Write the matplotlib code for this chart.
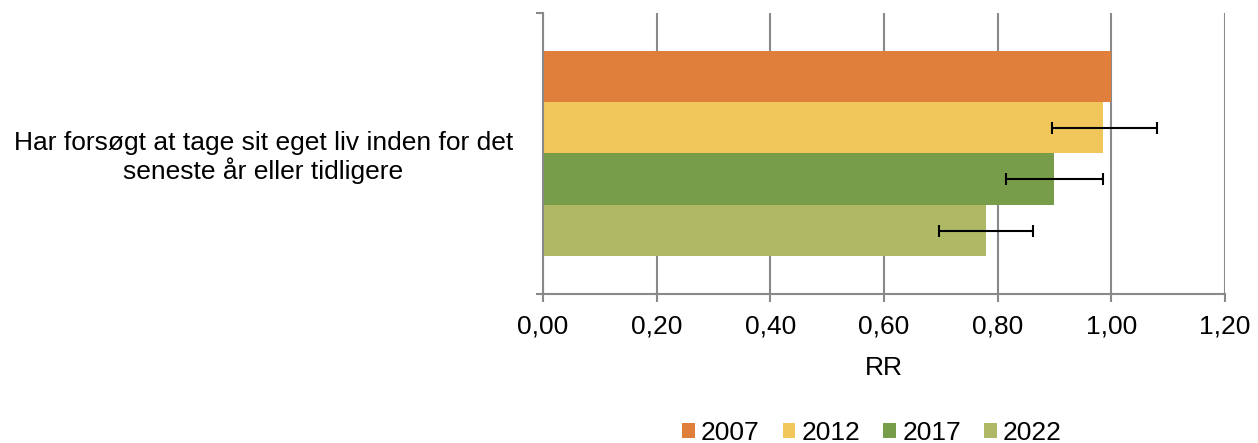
import matplotlib
matplotlib.use("Agg")
import matplotlib.pyplot as plt
import numpy as np

plt.rcParams['font.family'] = ['Liberation Sans', 'DejaVu Sans']

category = "Har forsøgt at tage sit eget liv inden for det\nseneste år eller tidligere"
years = ["2007", "2012", "2017", "2022"]
rr = [1.00, 0.985, 0.90, 0.78]
ci_low = [None, 0.896, 0.815, 0.697]
ci_high = [None, 1.080, 0.986, 0.863]
colors = ["#E07E3C", "#F1C75B", "#789D4A", "#AFB865"]
xticks = [0.0, 0.2, 0.4, 0.6, 0.8, 1.0, 1.2]
xticklabels = ["0,00", "0,20", "0,40", "0,60", "0,80", "1,00", "1,20"]

FS = 19

fig = plt.figure(figsize=(12.58, 4.43), dpi=100)
ax = fig.add_axes([0.4315, 0.3363, 0.9738 - 0.4315, 0.9707 - 0.3363])

grid_c = "#898989"
bw = 0.183
for i, (yr, v, c) in enumerate(zip(years, rr, colors)):
    y = (1.5 - i) * bw
    ax.barh(y, v, height=bw, color=c, label=yr, zorder=2)
    if ci_low[i] is not None:
        ax.errorbar(v, y, xerr=[[v - ci_low[i]], [ci_high[i] - v]], fmt='none',
                    ecolor='black', elinewidth=1.5, capsize=4.2, capthick=1.5, zorder=3)

ax.set_xlim(0, 1.2)
ax.set_ylim(-0.5, 0.5)
ax.set_xticks(xticks)
ax.set_xticklabels(xticklabels, fontsize=FS)
ax.xaxis.grid(True, color=grid_c, linewidth=1.5, zorder=0)
ax.set_axisbelow(True)
ax.tick_params(axis='x', direction='out', length=5.5, width=1.5, color=grid_c, pad=9)

ax.set_yticks([0])
ax.set_yticklabels([category], fontsize=FS, multialignment='center', linespacing=1.1)
ax.set_yticks([-0.5, 0.5], minor=True)
ax.tick_params(axis='y', which='major', length=0, pad=21.6)
ax.tick_params(axis='y', which='minor', direction='out', length=5, width=1.5, color=grid_c)

for s in ['top', 'right']:
    ax.spines[s].set_visible(False)
for s in ['left', 'bottom']:
    ax.spines[s].set_color(grid_c)
    ax.spines[s].set_linewidth(1.5)

ax.set_xlabel("RR", fontsize=FS, labelpad=13)

fig.legend(loc='center', bbox_to_anchor=(0.693, 1 - 433 / 443), ncol=4, frameon=False,
           fontsize=FS, handlelength=0.49, handleheight=0.49, handletextpad=0.23,
           columnspacing=0.87, borderaxespad=0.0)

fig.savefig("out.png", dpi=100)
